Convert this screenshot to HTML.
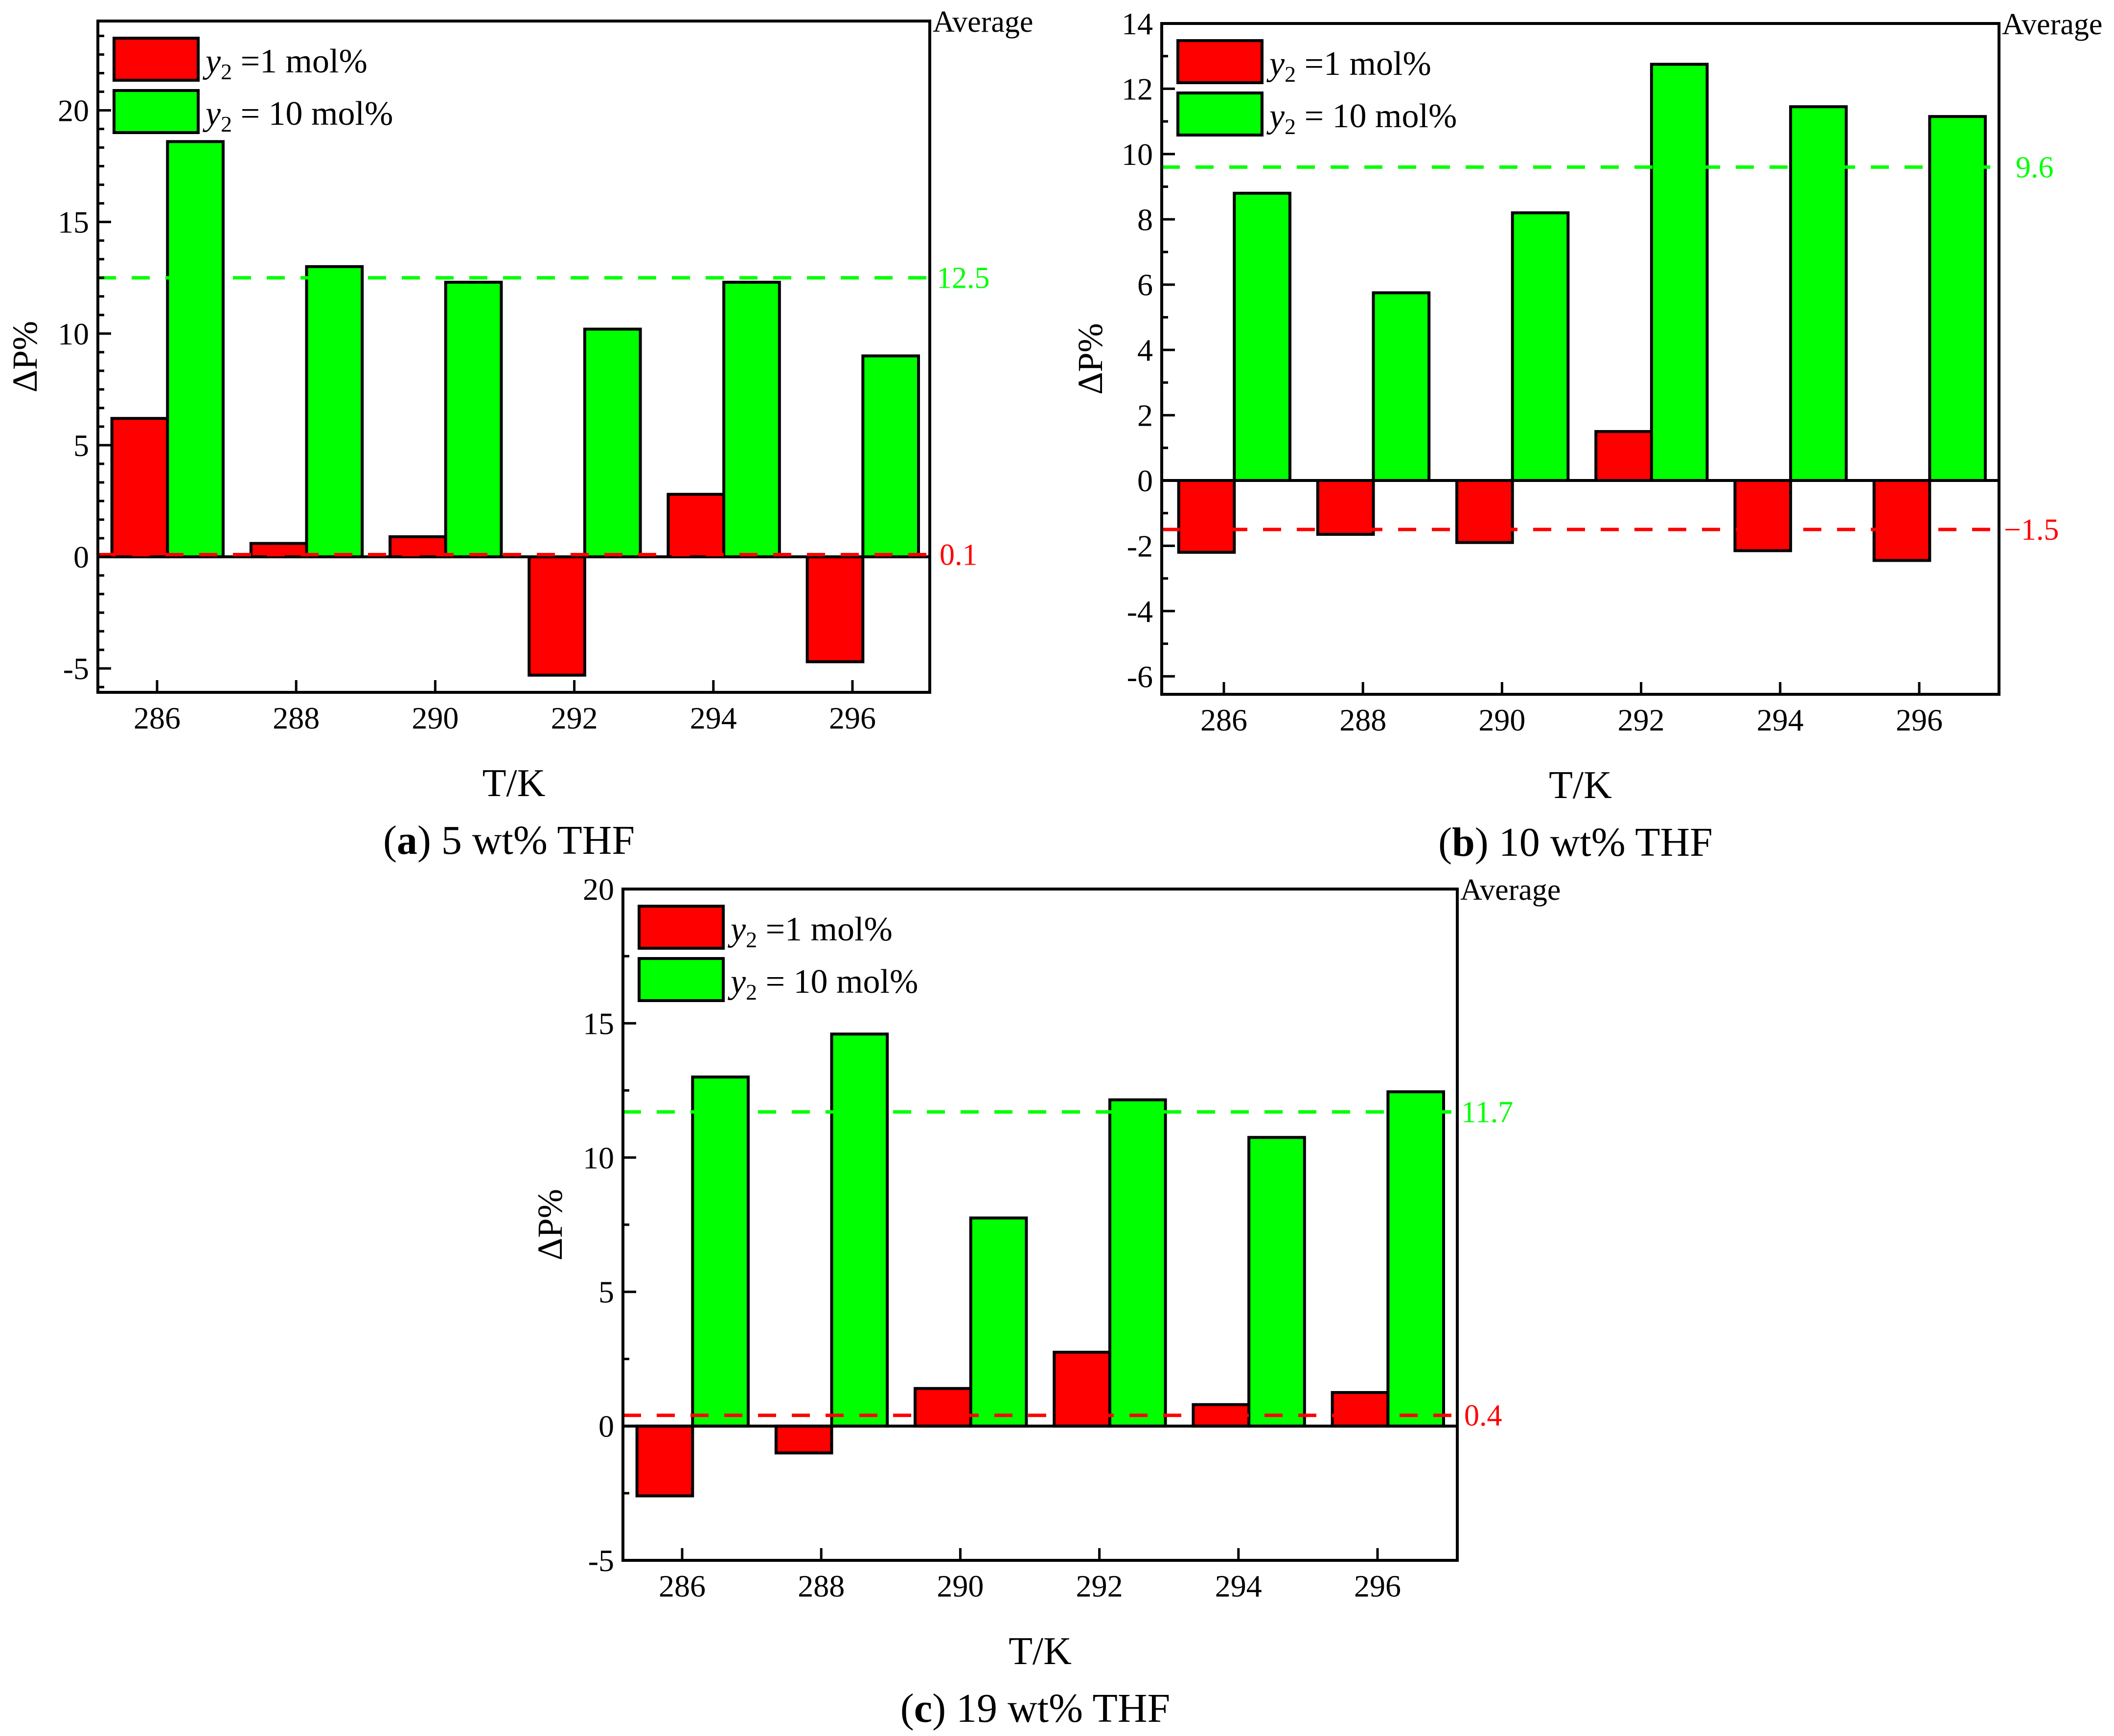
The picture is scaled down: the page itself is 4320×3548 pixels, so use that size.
<!DOCTYPE html>
<html><head><meta charset="utf-8">
<style>
html,body{margin:0;padding:0;background:#fff;}
svg{display:block;font-family:"Liberation Serif",serif;}
</style></head>
<body>
<svg id="fig" width="4320" height="3548" viewBox="0 0 4320 3548" xmlns="http://www.w3.org/2000/svg"></svg>
<script>
const categories = [286, 288, 290, 292, 294, 296];
const redA = [6.2, 0.6, 0.9, -5.3, 2.8, -4.7];
const greenA = [18.6, 13.0, 12.3, 10.2, 12.3, 9.0];
const avgA = [12.5, 0.1];
const redB = [-2.2, -1.65, -1.9, 1.5, -2.15, -2.45];
const greenB = [8.8, 5.75, 8.2, 12.75, 11.45, 11.15];
const avgB = [9.6, -1.5];
const redC = [-2.6, -1.0, 1.4, 2.75, 0.8, 1.25];
const greenC = [13.0, 14.6, 7.75, 12.15, 10.75, 12.45];
const avgC = [11.7, 0.4];
const ticksA = [-5, 0, 5, 10, 15, 20];
const ticksB = [-6, -4, -2, 0, 2, 4, 6, 8, 10, 12, 14];
const ticksC = [-5, 0, 5, 10, 15, 20];
const avgLabelsA = ["12.5", "0.1"];
const avgLabelsB = ["9.6", "\u22121.5"];
const avgLabelsC = ["11.7", "0.4"];

const NS = "http://www.w3.org/2000/svg";
const fig = document.getElementById('fig');
function mk(tag, attrs, parent, txt){
  const e = document.createElementNS(NS, tag);
  for (const k in attrs) e.setAttribute(k, attrs[k]);
  if (txt !== undefined) e.textContent = txt;
  (parent || fig).appendChild(e);
  return e;
}

function panel(cfg){
  const g = mk('g', {});
  
  
  const L = cfg.L, R = cfg.R, T = cfg.T, B = cfg.B;
  const y = v => B - (v - cfg.ymin) / (cfg.ymax - cfg.ymin) * (B - T);
  const x = k => cfg.x286 + (k - 286) * (cfg.x296 - cfg.x286) / 10;
  const pxK = (cfg.x296 - cfg.x286) / 10;

  categories.forEach((c, i) => {
    const rv = cfg.red[i], gv = cfg.green[i];
    const r = mk('rect', {x: x(c) - 0.65*pxK, y: Math.min(y(rv), y(0)), width: 0.8*pxK, height: Math.abs(y(rv) - y(0)), fill: '#ff0000', stroke: '#000', 'stroke-width': 6}, g);
    
    
    const gr = mk('rect', {x: x(c) + 0.15*pxK, y: Math.min(y(gv), y(0)), width: 0.8*pxK, height: Math.abs(y(gv) - y(0)), fill: '#00ff00', stroke: '#000', 'stroke-width': 6}, g);
    
    
  });
  const z = mk('line', {x1: L, x2: R, y1: y(0), y2: y(0), stroke: '#000', 'stroke-width': 6}, g);
  
  
  const ag = mk('line', {x1: L, x2: R, y1: y(cfg.avg[0]), y2: y(cfg.avg[0]), stroke: '#00ff00', 'stroke-width': 7, 'stroke-dasharray': '37 32'}, g);
  
  
  const ar = mk('line', {x1: L, x2: R, y1: y(cfg.avg[1]), y2: y(cfg.avg[1]), stroke: '#ff0000', 'stroke-width': 7, 'stroke-dasharray': '37 32'}, g);
  
  
  const tg = mk('text', {x: R + cfg.lblOff[0], y: y(cfg.avg[0]) + 21, 'font-size': 62, fill: '#00ff00'}, g, cfg.avgLabels[0]);
  
  
  const tr = mk('text', {x: R + cfg.lblOff[1], y: y(cfg.avg[1]) + 21, 'font-size': 62, fill: '#ff0000'}, g, cfg.avgLabels[1]);
  
  
  const av = mk('text', {x: R + 6, y: T + 22, 'font-size': 62}, g, 'Average');
  
  

  const step = cfg.ticks[1] - cfg.ticks[0];
  for (let v = cfg.ticks[0] - step; v <= cfg.ymax + 1e-9; v += step / cfg.minorN) {
    if (v < cfg.ymin - 1e-9) continue;
    const isMajor = cfg.ticks.some(t => Math.abs(t - v) < 1e-6);
    const tl = mk('line', {x1: L, x2: L + (isMajor ? 27 : 13), y1: y(v), y2: y(v), stroke: '#000', 'stroke-width': 5}, g);
    
    
  }
  cfg.ticks.forEach(t => {
    const lab = mk('text', {x: L - 18, y: y(t) + 22, 'font-size': 64, 'text-anchor': 'end'}, g, String(t));
    
    
  });
  categories.forEach(c => {
    const tl = mk('line', {x1: x(c), x2: x(c), y1: B, y2: B - 25, stroke: '#000', 'stroke-width': 5}, g);
    
    
    const lab = mk('text', {x: x(c), y: B + 74, 'font-size': 64, 'text-anchor': 'middle'}, g, String(c));
    
    
  });
  const fr = mk('rect', {x: L, y: T, width: R - L, height: B - T, fill: 'none', stroke: '#000', 'stroke-width': 6}, g);
  
  

  const lg = mk('g', {}, g);
  
  
  const entries = [['#ff0000', '=1 mol%', 'legend-entry-1mol'], ['#00ff00', '= 10 mol%', 'legend-entry-10mol']];
  entries.forEach((en, i) => {
    const by = T + 35 + i * 107;
    const box = mk('rect', {x: L + 33, y: by, width: 172, height: 86, fill: en[0], stroke: '#000', 'stroke-width': 6}, lg);
    
    
    const t = mk('text', {x: L + 220, y: by + 70, 'font-size': 70}, lg);
    
    
    mk('tspan', {'font-style': 'italic'}, t, 'y');
    mk('tspan', {'font-size': 46, dy: 14}, t, '2');
    mk('tspan', {dy: -14}, t, ' ' + en[1]);
  });

  const yt = mk('text', {x: 0, y: 0, 'font-size': 72, 'text-anchor': 'middle', transform: `translate(${cfg.ytx},${(T + B) / 2}) rotate(-90)`}, g, '\u0394P%');
  
  
  const xt = mk('text', {x: (L + R) / 2, y: B + 212, 'font-size': 80, 'text-anchor': 'middle'}, g, 'T/K');
  
  
  const cap = mk('text', {x: (L + R) / 2 - 10, y: B + 330, 'font-size': 84, 'text-anchor': 'middle'}, g);
  
  
  mk('tspan', {}, cap, '(');
  mk('tspan', {'font-weight': 'bold'}, cap, cfg.letter);
  mk('tspan', {}, cap, ') ' + cfg.caption);
}

panel({name: 'panel-a', L: 200, R: 1900, T: 43, B: 1415, ymin: -6.07, ymax: 24, x286: 321, x296: 1742,
  red: redA, green: greenA, avg: avgA, avgLabels: avgLabelsA, lblOff: [14, 20], ticks: ticksA, minorN: 6,
  ytx: 75, letter: 'a', caption: '5 wt% THF'});
panel({name: 'panel-b', L: 2374, R: 4085, T: 48, B: 1419, ymin: -6.55, ymax: 14, x286: 2501, x296: 3922,
  red: redB, green: greenB, avg: avgB, avgLabels: avgLabelsB, lblOff: [34, 10], ticks: ticksB, minorN: 2,
  ytx: 2252, letter: 'b', caption: '10 wt% THF'});
panel({name: 'panel-c', L: 1273, R: 2978, T: 1817, B: 3189, ymin: -5, ymax: 20, x286: 1394, x296: 2815,
  red: redC, green: greenC, avg: avgC, avgLabels: avgLabelsC, lblOff: [8, 14], ticks: ticksC, minorN: 2,
  ytx: 1148, letter: 'c', caption: '19 wt% THF'});
</script>
</body></html>
